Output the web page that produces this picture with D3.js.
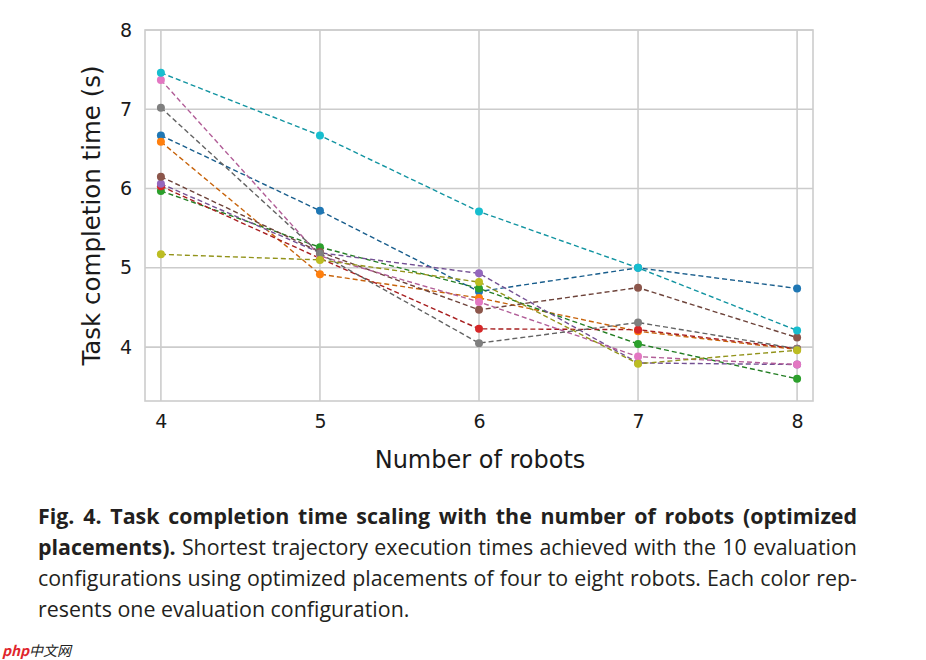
<!DOCTYPE html>
<html>
<head>
<meta charset="utf-8">
<script src="https://cdn.jsdelivr.net/npm/d3@7"></script>
<style>
  body { margin: 0; background: #fff; width: 926px; height: 660px; overflow: hidden; position: relative; }
  svg { position: absolute; left: 0; top: 0; }
  .caption { position: absolute; left: 38px; width: 819px; font-family: "Open Sans", "Noto Sans", sans-serif; font-size: 21.4px; color: #231f20; }
  .caption div { height: 31px; line-height: 31px; white-space: nowrap; }
  .caption .j { text-align: justify; text-align-last: justify; }
  .caption b { font-weight: 700; }
  .wm { position: absolute; left: 2px; top: 640px; font-family: "Noto Sans CJK SC", sans-serif; font-size: 14px; font-style: italic; color: #222; }
  .wm span { color: #e0242b; font-weight: 700; }
</style>
</head>
<body>
<svg id="chart" width="926" height="660"></svg>
<div class="caption" style="top:500px">
  <div class="j"><b>Fig. 4. Task completion time scaling with the number of robots (optimized</b></div>
  <div class="j"><b>placements).</b> Shortest trajectory execution times achieved with the 10 evaluation</div>
  <div class="j">configurations using optimized placements of four to eight robots. Each color rep-</div>
  <div>resents one evaluation configuration.</div>
</div>
<div class="wm"><span>php</span>中文网</div>
<script>
// data
const robots = [4, 5, 6, 7, 8];
const seriesColors = ["#1f77b4", "#ff7f0e", "#2ca02c", "#d62728", "#9467bd",
                      "#8c564b", "#e377c2", "#7f7f7f", "#bcbd22", "#17becf"];
const config1 = [6.67, 5.72, 4.70, 5.00, 4.74];
const config2 = [6.59, 4.92, 4.62, 4.20, 3.97];
const config3 = [5.97, 5.26, 4.74, 4.04, 3.60];
const config4 = [6.03, 5.12, 4.23, 4.22, 3.98];
const config5 = [6.06, 5.19, 4.93, 3.80, 3.78];
const config6 = [6.15, 5.20, 4.47, 4.75, 4.12];
const config7 = [7.37, 5.15, 4.57, 3.88, 3.78];
const config8 = [7.02, 5.18, 4.05, 4.31, 3.98];
const config9 = [5.17, 5.10, 4.82, 3.79, 3.96];
const config10 = [7.46, 6.67, 5.71, 5.00, 4.21];
const configs = [config1, config2, config3, config4, config5, config6, config7, config8, config9, config10];
const yTicks = [4, 5, 6, 7, 8];

const svg = d3.select("#chart");
const plotLeft = 145, plotRight = 813, plotTop = 30, plotBottom = 401;

const x = d3.scaleLinear().domain([3.9, 8.1]).range([plotLeft, plotRight]);
const y = d3.scaleLinear().domain([3.32, 8]).range([plotBottom, plotTop]);

/*
      Grid
*/
const grid = svg.append("g");
grid.selectAll("line.gx")
  .data(robots)
  .join("line")
  .attr("class", "gx")
  .attr("x1", (d) => x(d)).attr("x2", (d) => x(d))
  .attr("y1", plotTop).attr("y2", plotBottom)
  .attr("stroke", "#cccccc").attr("stroke-width", 1.6);
grid.selectAll("line.gy")
  .data(yTicks)
  .join("line")
  .attr("class", "gy")
  .attr("x1", plotLeft).attr("x2", plotRight)
  .attr("y1", (d) => y(d)).attr("y2", (d) => y(d))
  .attr("stroke", "#cccccc").attr("stroke-width", 1.6);

svg.append("rect")
  .attr("x", plotLeft).attr("y", plotTop)
  .attr("width", plotRight - plotLeft).attr("height", plotBottom - plotTop)
  .attr("fill", "none").attr("stroke", "#cccccc").attr("stroke-width", 1.6);

/*
      Axes
*/
const xAxis = svg.append("g")
  .attr("transform", `translate(0,${plotBottom})`)
  .call(d3.axisBottom(x).tickValues(robots).tickFormat(d3.format("d")).tickSize(0).tickPadding(14));
const yAxis = svg.append("g")
  .attr("transform", `translate(${plotLeft},0)`)
  .call(d3.axisLeft(y).tickValues(yTicks).tickFormat(d3.format("d")).tickSize(0).tickPadding(13));
[xAxis, yAxis].forEach((a) => {
  a.select(".domain").remove();
  a.selectAll("text")
    .attr("font-family", "DejaVu Sans, sans-serif")
    .attr("font-size", "19px")
    .attr("fill", "#1a1a1a");
});

svg.append("text")
  .attr("x", (plotLeft + plotRight) / 2 + 1).attr("y", 468)
  .attr("text-anchor", "middle")
  .attr("font-family", "DejaVu Sans, sans-serif").attr("font-size", "24px").attr("fill", "#1a1a1a")
  .text("Number of robots");
svg.append("text")
  .attr("transform", `translate(100,${(plotTop + plotBottom) / 2}) rotate(-90)`)
  .attr("text-anchor", "middle")
  .attr("font-family", "DejaVu Sans, sans-serif").attr("font-size", "24.5px").attr("fill", "#1a1a1a")
  .text("Task completion time (s)");

/*
      Series
*/
const line = d3.line().x((d, i) => x(robots[i])).y((d) => y(d));
const series = svg.append("g")
  .selectAll("g")
  .data(configs)
  .join("g");

series.append("path")
  .attr("d", (d) => line(d))
  .attr("fill", "none")
  .attr("stroke", (d, i) => d3.color(seriesColors[i]).darker(0.7))
  .attr("stroke-width", 1.4)
  .attr("stroke-dasharray", "5,3");

series.selectAll("circle")
  .data((d, i) => d.map((v, j) => ({ v, j, c: seriesColors[i] })))
  .join("circle")
  .attr("cx", (d) => x(robots[d.j]))
  .attr("cy", (d) => y(d.v))
  .attr("r", 4)
  .attr("fill", (d) => d.c);
</script>
</body>
</html>
